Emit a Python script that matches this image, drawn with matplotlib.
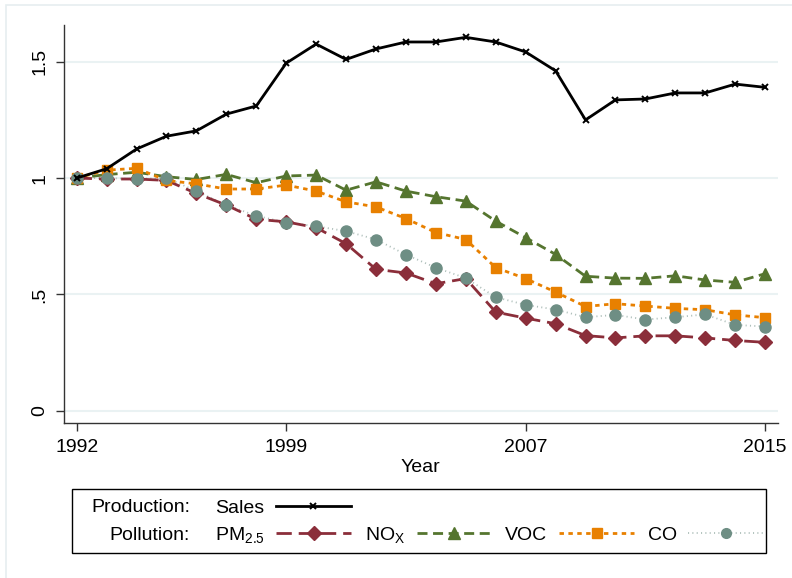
import matplotlib
matplotlib.use('Agg')
import matplotlib.pyplot as plt
from matplotlib.lines import Line2D
from matplotlib.patches import Rectangle

plt.rcParams['font.family'] = ['Liberation Sans', 'DejaVu Sans']
plt.rcParams['mathtext.fontset'] = 'custom'
plt.rcParams['mathtext.rm'] = 'Liberation Sans'
plt.rcParams['mathtext.it'] = 'Liberation Sans:italic'

years = list(range(1992, 2016))

# indices, 1992 = 1
sales = [1.0, 1.04, 1.125, 1.18, 1.203, 1.275, 1.31, 1.494, 1.576, 1.51, 1.555, 1.585,
         1.585, 1.605, 1.585, 1.542, 1.461, 1.25, 1.336, 1.34, 1.366, 1.366, 1.404, 1.39]
pm25 = [1.0, 0.996, 0.996, 0.99, 0.934, 0.884, 0.823, 0.812, 0.787, 0.718, 0.608, 0.592,
        0.546, 0.568, 0.424, 0.398, 0.374, 0.323, 0.313, 0.322, 0.322, 0.313, 0.302, 0.294]
nox = [1.0, 1.015, 1.025, 1.006, 0.994, 1.016, 0.98, 1.009, 1.013, 0.948, 0.984, 0.944,
       0.92, 0.901, 0.815, 0.744, 0.672, 0.578, 0.570, 0.569, 0.58, 0.562, 0.552, 0.589]
voc = [1.0, 1.034, 1.042, 0.99, 0.975, 0.953, 0.953, 0.97, 0.944, 0.898, 0.876, 0.826,
       0.766, 0.736, 0.615, 0.568, 0.51, 0.448, 0.46, 0.45, 0.44, 0.434, 0.412, 0.40]
co = [1.0, 1.0, 0.996, 1.001, 0.944, 0.884, 0.838, 0.809, 0.793, 0.772, 0.736, 0.671,
      0.615, 0.57, 0.488, 0.455, 0.435, 0.402, 0.412, 0.392, 0.402, 0.414, 0.369, 0.362]

xticks = [1992, 1999, 2007, 2015]
yticks = [0, 0.5, 1, 1.5]
ytick_labels = ['0', '.5', '1', '1.5']

c_sales = 'black'
c_pm = '#8b2e3a'
c_nox = '#55752f'
c_voc = '#e88000'
c_co = '#6e8e84'
c_co_line = '#aebfba'

W, H = 792, 578
fig = plt.figure(figsize=(W / 100, H / 100), dpi=100)
fig.patches.append(Rectangle((6 / W, -0.1), 1.2, 1 - 5 / H + 0.1, transform=fig.transFigure,
                             fill=False, edgecolor='#e6eef0', lw=1.2))

ax = fig.add_axes([64 / W, 1 - 423.3 / H, (777.7 - 64) / W, (423.3 - 25) / H])

for v in yticks:
    ax.axhline(v, color='#eaf2f3', lw=1.5, zorder=0)

ax.plot(years, sales, color=c_sales, lw=2.0, marker='x', ms=5, mew=1.4, zorder=6)
ax.plot(years, co, color=c_co_line, lw=1.3, ls=(0, (0.6, 1.8)), zorder=2)
ax.plot(years, co, color=c_co, lw=0, marker='o', ms=8, zorder=5)
ax.plot(years, voc, color=c_voc, lw=2.0, ls=(0, (1.6, 1.6)), marker='s', ms=7.5, zorder=4)
ax.plot(years, nox, color=c_nox, lw=2.0, ls=(0, (3.6, 2.0)), marker='^', ms=8.5, zorder=3)
ax.plot(years, pm25, color=c_pm, lw=2.0, ls=(0, (5.5, 2.5)), marker='D', ms=7, zorder=3)

ax.set_xlim(1991.576, 2015.42)
ax.set_ylim(-0.054, 1.658)
ax.set_xticks(xticks)
ax.set_xticklabels([str(x) for x in xticks], fontsize=14)
ax.set_yticks(yticks)
ax.set_yticklabels(ytick_labels, fontsize=14, rotation=90, va='center')
ax.tick_params(axis='both', length=5.5, width=1.0, color='#333333')
ax.tick_params(axis='x', pad=6)
ax.tick_params(axis='y', pad=6)
for s in ['top', 'right']:
    ax.spines[s].set_visible(False)
for s in ['left', 'bottom']:
    ax.spines[s].set_color('#333333')
    ax.spines[s].set_linewidth(1.0)
ax.set_xlabel('Year', fontsize=14, labelpad=2)

# legend box
fig.patches.append(Rectangle((72 / W, 1 - 553 / H), (766 - 72) / W, (553 - 489) / H,
                             transform=fig.transFigure, fill=False, edgecolor='black', lw=1.0))
fig.text(190 / W, 1 - 508 / H, 'Production:', ha='right', va='center', fontsize=14)
fig.text(190 / W, 1 - 535 / H, 'Pollution:', ha='right', va='center', fontsize=14)

h_sales = Line2D([], [], color=c_sales, lw=2.0, marker='x', ms=5, mew=1.4)
h_pm = Line2D([], [], color=c_pm, lw=2.0, ls=(0, (5.5, 2.5)), marker='D', ms=7)
h_nox = Line2D([], [], color=c_nox, lw=2.0, ls=(0, (3.6, 2.0)), marker='^', ms=8)
h_voc = Line2D([], [], color=c_voc, lw=2.0, ls=(0, (1.6, 1.6)), marker='s', ms=7)
h_co = Line2D([], [], color=c_co_line, lw=1.3, ls=(0, (0.6, 1.8)), marker='o', ms=7,
              markerfacecolor=c_co, markeredgecolor=c_co)

common = dict(loc='center left', frameon=False, markerfirst=False, numpoints=1,
              handlelength=3.85, handletextpad=0.6, columnspacing=0.7,
              borderpad=0, borderaxespad=0, fontsize=14)
fig.legend([h_sales], ['Sales'], bbox_to_anchor=(215 / W, 1 - 508 / H), **common)
fig.legend([h_pm, h_nox, h_voc, h_co],
           [r'PM$_{\mathrm{2.5}}$', r'NO$_{\mathrm{X}}$', 'VOC', 'CO'],
           ncol=4, bbox_to_anchor=(215 / W, 1 - 535 / H), **common)

fig.savefig('out.png', dpi=100)
